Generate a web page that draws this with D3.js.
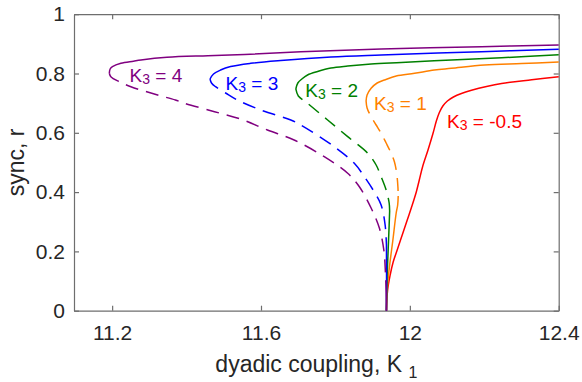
<!DOCTYPE html>
<html>
<head>
<meta charset="utf-8">
<script src="https://cdn.jsdelivr.net/npm/d3@7"></script>
<style>
  html, body { margin: 0; padding: 0; background: #fff; }
  svg { display: block; }
  text { font-family: "Liberation Sans", Arial, Helvetica, sans-serif; }
</style>
</head>
<body>
<svg id="chart" width="582" height="382"></svg>
<script>
// ---------- data ----------
const xTicks = [11.2, 11.6, 12, 12.4];
const yTicks = [0, 0.2, 0.4, 0.6, 0.8, 1];
const xDomain = [11.0975, 12.4];
const yDomain = [0, 1];

const k3Values = ["-0.5", "1", "2", "3", "4"];
const seriesColors = ["#ff0000", "#ff8000", "#008000", "#0000ff", "#800080"];

// K3 = 4 (purple)
const purpleUpper = [[11.1924,0.8007],[11.1946,0.8152],[11.2008,0.8229],[11.2235,0.8344],[11.2574,0.8415],[11.2774,0.8455],[11.3475,0.8546],[11.4570,0.8600],[11.5560,0.8641],[11.7071,0.8735],[11.9228,0.8826],[12.1926,0.8904],[12.4,0.8961]];
const purpleDashed = [[11.1924,0.8007],[11.1965,0.7892],[11.2189,0.7724],[11.2504,0.7555],[11.3222,0.7275],[11.3699,0.7106],[11.3942,0.6995],[11.4751,0.6712],[11.5471,0.6455],[11.6173,0.6094],[11.6890,0.5757],[11.7699,0.5194],[11.8330,0.4634],[11.8643,0.4182],[11.8959,0.3464],[11.9183,0.2779],[11.9301,0.2047],[11.9345,0.1261],[11.9363,0.0631]];
const purpleLower = [[11.9363,0.0631],[11.9369,0.0300],[11.9371,0]];

// K3 = 3 (blue)
const blueUpper = [[11.4630,0.7815],[11.4724,0.7983],[11.4913,0.8118],[11.5183,0.8236],[11.5722,0.8344],[11.6531,0.8439],[11.7880,0.8557],[11.9228,0.8624],[12.1926,0.8735],[12.4,0.8816]];
const blueDashed = [[11.4630,0.7815],[11.4670,0.7680],[11.4778,0.7555],[11.5048,0.7342],[11.5363,0.7106],[11.5992,0.6769],[11.6801,0.6432],[11.7071,0.6263],[11.7969,0.5531],[11.8508,0.4971],[11.8778,0.4519],[11.9013,0.4071],[11.9228,0.3565],[11.9336,0.2890],[11.9371,0.2216]];
const blueLower = [[11.9371,0.2216],[11.9374,0.1035],[11.9371,0]];

// K3 = 2 (green)
const greenUpper = [[11.6936,0.7478],[11.6990,0.7680],[11.7098,0.7815],[11.7251,0.7950],[11.7521,0.8068],[11.7880,0.8186],[11.8330,0.8253],[11.8959,0.8320],[11.9768,0.8371],[12.1117,0.8455],[12.2465,0.8530],[12.4,0.8634]];
const greenDashed = [[11.6936,0.7478],[11.7003,0.7241],[11.7251,0.6995],[11.7791,0.6432],[11.8330,0.5869],[11.8870,0.5309],[11.9094,0.4914],[11.9228,0.4519],[11.9363,0.4071],[11.9444,0.3632],[11.9457,0.3363]];
const greenLower = [[11.9457,0.3363],[11.9444,0.2890],[11.9417,0.2047],[11.9390,0.1204],[11.9377,0.0530],[11.9371,0]];

// K3 = 1 (orange)
const orangeUpper = [[11.8824,0.7073],[11.8851,0.7275],[11.8959,0.7501],[11.9121,0.7680],[11.9318,0.7781],[11.9633,0.7916],[12.0127,0.8007],[12.0658,0.8118],[12.1117,0.8175],[12.2007,0.8287],[12.3004,0.8337],[12.4,0.8388]];
const orangeDashed = [[11.8824,0.7073],[11.8851,0.6836],[11.8959,0.6543],[11.9094,0.6263],[11.9228,0.5983],[11.9363,0.5656],[11.9498,0.5309],[11.9587,0.5015],[11.9646,0.4634],[11.9679,0.4182],[11.9687,0.3868]];
const orangeLower = [[11.9687,0.3868],[11.9673,0.3565],[11.9633,0.3295],[11.9544,0.2384],[11.9452,0.1484],[11.9390,0.0698],[11.9371,0]];

// K3 = -0.5 (red)
const redCurve = [[11.9371,0],[11.9403,0.0698],[11.9471,0.1204],[11.9552,0.1643],[11.9660,0.2047],[11.9795,0.2553],[11.9930,0.3059],[12.0065,0.3565],[12.0173,0.4003],[12.0254,0.4408],[12.0348,0.4880],[12.0488,0.5420],[12.0623,0.5983],[12.0712,0.6398],[12.0793,0.6685],[12.0887,0.6904],[12.1009,0.7073],[12.1171,0.7208],[12.1386,0.7326],[12.1656,0.7433],[12.2061,0.7562],[12.2465,0.7663],[12.3274,0.7788],[12.4,0.7892]];

// label anchor points (data coords): [K1, r] (left edge, baseline)
const labelPos = [[12.1001,0.6152],[11.9040,0.6769],[11.7192,0.7207],[11.5048,0.7460],[11.2467,0.7723]];

// ---------- layout ----------
const W = 582, H = 382;
const m = {left: 74, top: 14.2, right: 582 - 558.7, bottom: 382 - 310.7};
const svg = d3.select("#chart");
const x = d3.scaleLinear().domain(xDomain).range([m.left, W - m.right]);
const y = d3.scaleLinear().domain(yDomain).range([H - m.bottom, m.top]);

const axisColor = "#6e6e6e";
const textColor = "#262626";
const tickLen = 5;

// axes (box)
const gx = svg.append("g").attr("transform", `translate(0,${y(0)})`)
  .call(d3.axisBottom(x).tickValues(xTicks).tickSizeInner(-tickLen).tickSizeOuter(0).tickPadding(14).tickFormat(d3.format("")));
const gxTop = svg.append("g").attr("transform", `translate(0,${y(1)})`)
  .call(d3.axisTop(x).tickValues(xTicks).tickSizeInner(-tickLen).tickSizeOuter(0).tickFormat(""));
const gy = svg.append("g").attr("transform", `translate(${x(xDomain[0])},0)`)
  .call(d3.axisLeft(y).tickValues(yTicks).tickSizeInner(-tickLen).tickSizeOuter(0).tickPadding(9).tickFormat(d3.format("")));
const gyRight = svg.append("g").attr("transform", `translate(${x(xDomain[1])},0)`)
  .call(d3.axisRight(y).tickValues(yTicks).tickSizeInner(-tickLen).tickSizeOuter(0).tickFormat(""));

[gx, gxTop, gy, gyRight].forEach(g => {
  g.select(".domain").attr("stroke", axisColor).attr("stroke-width", 1.2);
  g.selectAll(".tick line").attr("stroke", axisColor).attr("stroke-width", 1.2);
  g.selectAll(".tick text").attr("fill", textColor).attr("font-size", 21)
    .attr("font-family", "'Liberation Sans', Arial, sans-serif");
});
gx.selectAll(".tick text").attr("dy", "0.71em");

// curves
const line = d3.line().x(d => x(d[0])).y(d => y(d[1])).curve(d3.curveCatmullRom.alpha(0.5));
const plot = svg.append("g");
function draw(data, color, dashed) {
  plot.append("path").datum(data)
    .attr("d", line)
    .attr("fill", "none")
    .attr("stroke", color)
    .attr("stroke-width", 1.5)
    .attr("stroke-dasharray", dashed ? "13,8" : null);
}
// red, orange, green, blue, purple (purple on top)
draw(redCurve, seriesColors[0], false);
draw(orangeUpper, seriesColors[1], false);
draw(orangeDashed, seriesColors[1], true);
draw(orangeLower, seriesColors[1], false);
draw(greenUpper, seriesColors[2], false);
draw(greenDashed, seriesColors[2], true);
draw(greenLower, seriesColors[2], false);
draw(blueUpper, seriesColors[3], false);
draw(blueDashed, seriesColors[3], true);
draw(blueLower, seriesColors[3], false);
draw(purpleUpper, seriesColors[4], false);
draw(purpleDashed, seriesColors[4], true);
draw(purpleLower, seriesColors[4], false);

// inline labels
labelPos.forEach((p, i) => {
  const t = svg.append("text")
    .attr("x", x(p[0])).attr("y", y(p[1]))
    .attr("fill", seriesColors[i]).attr("font-size", 19);
  t.append("tspan").text("K");
  t.append("tspan").attr("font-size", 14).attr("dy", 2).text("3");
  t.append("tspan").attr("dy", -2).text(" = " + k3Values[i]);
});

// axis labels
const xl = svg.append("text")
  .attr("x", (x(xDomain[0]) + x(xDomain[1])) / 2).attr("y", 372)
  .attr("text-anchor", "middle").attr("fill", textColor).attr("font-size", 23);
xl.append("tspan").text("dyadic coupling, K ");
xl.append("tspan").attr("font-size", 16).attr("dy", 6).text("1");

svg.append("text")
  .attr("transform", `translate(24,${(y(0) + y(1)) / 2}) rotate(-90)`)
  .attr("text-anchor", "middle").attr("fill", textColor).attr("font-size", 23)
  .text("sync, r");
</script>
</body>
</html>
